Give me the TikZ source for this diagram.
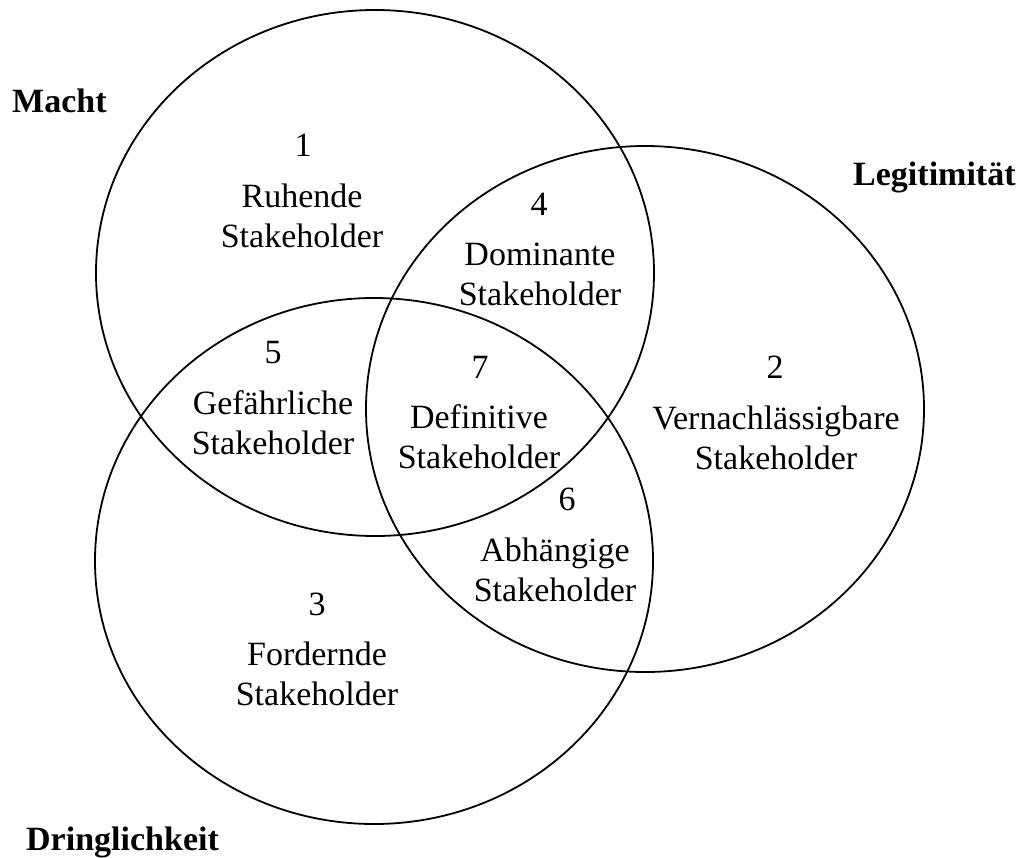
\documentclass[tikz,border=0pt]{standalone}
\usepackage{fontspec}
\setmainfont{Liberation Serif}
\usepackage{tikz}
\usetikzlibrary{calc}

\tikzset{
  kreis/.style={draw, line width=1.8pt},
  num/.style={anchor=base, inner sep=0pt, font=\fontsize{34}{40}\selectfont},
  feld/.style={anchor=base, inner sep=0pt, align=center, font=\fontsize{34}{40}\selectfont},
  titel/.style={anchor=base west, inner sep=0pt, font=\fontsize{34}{40}\selectfont\bfseries}
}

\begin{document}
\begin{tikzpicture}[x=1pt,y=-1pt]
        \useasboundingbox (0,0) rectangle (1023,857);
        % Mittelpunkte der drei Kreise
        \coordinate (macht) at (375,273);
        \coordinate (legit) at (645,409);
        \coordinate (dring) at (374,561);
        \draw[kreis] (macht) ellipse [x radius=279, y radius=263];
        \draw[kreis] (legit) ellipse [x radius=279, y radius=263];
        \draw[kreis] (dring) ellipse [x radius=279, y radius=263];

        \node[titel] (tm) at (12,112) {Macht};
        \node[titel] (tl) at (853,185) {Legitimität};
        \node[titel] (td) at (26,850) {Dringlichkeit};

        %\node[num] (n0) at (0,0) {0};
        \node[num] (n1) at (303,156) {1};
        \node[feld] (f1) at (302,247) {Ruhende\\Stakeholder};
        \node[num] (n2) at (775,378) {2};
        \node[feld] (f2) at (776,469) {Vernachlässigbare\\Stakeholder};
        \node[num] (n3) at (317,615) {3};
        \node[feld] (f3) at (317,705) {Fordernde\\Stakeholder};
        \node[num] (n4) at (539,215) {4};
        \node[feld] (f4) at (540,305) {Dominante\\Stakeholder};
        \node[num] (n5) at (273,363) {5};
        \node[feld] (f5) at (273,454) {Gefährliche\\Stakeholder};
        \node[num] (n6) at (567,510) {6};
        \node[feld] (f6) at (555,601) {Abhängige\\Stakeholder};
        \node[num] (n7) at (480,378) {7};
        \node[feld] (f7) at (479,468) {Definitive\\Stakeholder};
    \end{tikzpicture}
\end{document}
